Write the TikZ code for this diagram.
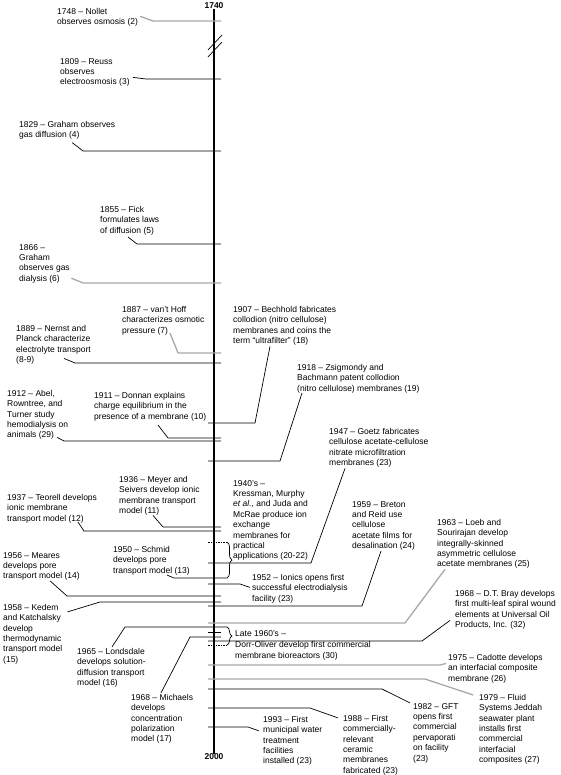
\documentclass[tikz,border=0pt]{standalone}
\usepackage{fontspec}
\setmainfont{Liberation Sans}
\usepackage{tikz}
\usetikzlibrary{decorations.pathreplacing}

\definecolor{linegray}{RGB}{168,168,168}
\newcommand{\evfont}{\fontsize{8.5}{10.4}\selectfont}

\begin{document}
\begin{tikzpicture}[x=1pt, y=-1pt,
  event/.style={anchor=north west, inner sep=0pt, align=left, font=\evfont},
  year/.style={inner sep=0pt, font=\evfont\bfseries},
  link/.style={line width=0.7pt},
  faint/.style={line width=1.3pt, draw=linegray},
  brace/.style={decorate, decoration={brace, amplitude=5pt}, line width=0.7pt},
  open/.style={line width=0.7pt, dash pattern=on 1.5pt off 1pt}]

\useasboundingbox (0,0) rectangle (560,775);

% Time axis
\node[year] (y1740) at (214,6) {1740};
\node[year] (y2000) at (214,757) {2000};
\draw[line width=1.1pt] (y1740.south) -- (y2000.north);

% Break in the axis
\draw[link] (208,57) -- (222,42);
\draw[link] (208,50) -- (222,35);

% Tick ends on the axis
\foreach \n/\y in {nollet/21, reuss/79, graham/151, fick/244, dialysis/283,
    vanthoff/353, nernst/363, donnan/438, abel/441, meyer/527, teorell/531,
    meares/596, kedem/602, michaels/637}
  \coordinate (\n-tick) at (221,\y);
\foreach \n/\y in {bechhold/423, zsigmondy/461, goetz/563, ionics/584,
    breton/606, loeb/623, bray/641, cadotte/665, fluid/679, gft/689,
    ceramic/708, municipal/727}
  \coordinate (\n-tick) at (208,\y);

% Events left of the axis
\node[event] (nollet) at (57,7.9) {1748 -- Nollet\\observes osmosis (2)};
\node[event] (reuss) at (60,57.9) {1809 -- Reuss\\observes\\electroosmosis (3)};
\node[event] (graham) at (19,120.9) {1829 -- Graham observes\\gas diffusion (4)};
\node[event] (fick) at (100,205.9) {1855 -- Fick\\formulates laws\\of diffusion (5)};
\node[event] (dialysis) at (19,243.9) {1866 --\\Graham\\observes gas\\dialysis (6)};
\node[event] (vanthoff) at (122,305.9) {1887 -- van't Hoff\\characterizes osmotic\\pressure (7)};
\node[event] (nernst) at (16,324.9) {1889 -- Nernst and\\Planck characterize\\electrolyte transport\\(8-9)};
\node[event] (abel) at (7,389.9) {1912 -- Abel,\\Rowntree, and\\Turner study\\hemodialysis on\\animals (29)};
\node[event] (donnan) at (94,391.9) {1911 -- Donnan explains\\charge equilibrium in the\\presence of a membrane (10)};
\node[event] (meyer) at (119,475.9) {1936 -- Meyer and\\Seivers develop ionic\\membrane transport\\model (11)};
\node[event] (teorell) at (7,493.9) {1937 -- Teorell develops\\ionic membrane\\transport model (12)};
\node[event] (schmid) at (113,545.9) {1950 -- Schmid\\develops pore\\transport model (13)};
\node[event] (meares) at (3,551.9) {1956 -- Meares\\develops pore\\transport model (14)};
\node[event] (kedem) at (3,603.9) {1958 -- Kedem\\and Katchalsky\\develop\\thermodynamic\\transport model\\(15)};
\node[event] (londsdale) at (77,647.9) {1965 -- Londsdale\\develops solution-\\diffusion transport\\model (16)};
\node[event] (michaels) at (131,693.9) {1968 -- Michaels\\develops\\concentration\\polarization\\model (17)};

% Events right of the axis
\node[event] (bechhold) at (233,305.9) {1907 -- Bechhold fabricates\\collodion (nitro cellulose)\\membranes and coins the\\term ``ultrafilter'' (18)};
\node[event] (zsigmondy) at (297,363.9) {1918 -- Zsigmondy and\\Bachmann patent collodion\\(nitro cellulose) membranes (19)};
\node[event] (goetz) at (329,427.9) {1947 -- Goetz fabricates\\cellulose acetate-cellulose\\nitrate microfiltration\\membranes (23)};
\node[event] (forties) at (233,479.9) {1940's --\\Kressman, Murphy\\\textit{et al.}, and Juda and\\McRae produce ion\\exchange\\membranes for\\practical\\applications (20-22)};
\node[event] (ionics) at (252,573.9) {1952 -- Ionics opens first\\successful electrodialysis\\facility (23)};
\node[event] (breton) at (352,500.9) {1959 -- Breton\\and Reid use\\cellulose\\acetate films for\\desalination (24)};
\node[event] (loeb) at (437,518.9) {1963 -- Loeb and\\Sourirajan develop\\integrally-skinned\\asymmetric cellulose\\acetate membranes (25)};
\node[event] (bray) at (455,589.9) {1968 -- D.T. Bray develops\\first multi-leaf spiral wound\\elements at Universal Oil\\Products, Inc. (32)};
\node[event] (late) at (235,629.9) {Late 1960's --\\[1.5pt]Dorr-Oliver develop first commercial\\membrane bioreactors (30)};
\node[event] (cadotte) at (448,653.9) {1975 -- Cadotte develops\\an interfacial composite\\membrane (26)};
\node[event] (fluid) at (479,693.9) {1979 -- Fluid\\Systems Jeddah\\seawater plant\\installs first\\commercial\\interfacial\\composites (27)};
\node[event] (gft) at (413,702.9) {1982 -- GFT\\opens first\\commercial\\pervaporati\\on facility\\(23)};
\node[event] (ceramic) at (343,714.9) {1988 -- First\\commercially-\\relevant\\ceramic\\membranes\\fabricated (23)};
\node[event] (municipal) at (263,715.9) {1993 -- First\\municipal water\\treatment\\facilities\\installed (23)};

% Connectors, left side
\draw[faint] ([shift={(2,-1)}]nollet.east) -- (153,21) -- (nollet-tick);
\draw[link] ([shift={(3,5)}]reuss.east) -- (146,79) -- (reuss-tick);
\draw[link] ([shift={(5,3)}]graham.south) -- (83,151) -- (graham-tick);
\draw[link] ([shift={(28,2)}]fick.south west) -- (137,244) -- (fick-tick);
\draw[faint] ([shift={(1.5,-5)}]dialysis.south east) -- (83,283) -- (dialysis-tick);
\draw[faint] ([shift={(48,-2)}]vanthoff.south west) -- (178,353) -- (vanthoff-tick);
\draw[link] ([shift={(48,-6)}]nernst.south west) -- (75,363) -- (nernst-tick);
\draw[link] ([shift={(50,-2.5)}]abel.south west) -- (64,441) -- (abel-tick);
\draw[link] ([shift={(64,4)}]donnan.south west) -- (168,438) -- (donnan-tick);
\draw[link] ([shift={(34,0)}]meyer.south west) -- (163,527) -- (meyer-tick);
\draw[link] ([shift={(71,-1)}]teorell.south west) -- (84,531) -- (teorell-tick);
\draw[link] ([shift={(47,0)}]meares.south west) -- (67,596) -- (meares-tick);
\draw[link] ([shift={(5,8)}]kedem.north east) -- (100,602) -- (kedem-tick);
\draw[link] ([shift={(30,-1)}]michaels.north west) -- (190,637) -- (michaels-tick);

% Braces for the 1940's and late 1960's
\coordinate (forties-top) at (227,542);
\coordinate (forties-bot) at (227,578);
\coordinate (forties-open) at (208,542);
\draw[brace] (forties-top) -- (forties-bot);
\draw[open] (forties-open) -- (forties-top);
\draw[link] ([shift={(54,0)}]schmid.south west) -- (174,578) -- (forties-bot);

\coordinate (late-top) at (227,627);
\coordinate (late-bot) at (227,645);
\coordinate (late-open) at (208,645);
\draw[brace] (late-top) -- (late-bot);
\draw[open] (late-open) -- (late-bot);
\draw[link] ([shift={(35,-1)}]londsdale.north west) -- (125,627) -- (late-top);
\draw[link] (208,632) -- (221,632);

% Connectors, right side
\draw[link] ([shift={(37,1)}]bechhold.south west) -- (255,423) -- (bechhold-tick);
\draw[link] ([shift={(5,0)}]zsigmondy.south west) -- (280,461) -- (zsigmondy-tick);
\draw[link] ([shift={(16,1)}]goetz.south west) -- (311,563) -- (goetz-tick);
\draw[link] ([shift={(-2,-1)}]ionics.west) -- (240,584) -- (ionics-tick);
\draw[link] ([shift={(29,0.5)}]breton.south west) -- (362,606) -- (breton-tick);
\draw[faint] ([shift={(8,0.5)}]loeb.south west) -- (405,623) -- (loeb-tick);
\draw[link] ([shift={(-5,-9)}]bray.south west) -- (422,641) -- (bray-tick);
\draw[faint] ([shift={(-2,-5)}]cadotte.west) -- (440,665) -- (cadotte-tick);
\draw[faint] ([shift={(-6,1)}]fluid.north west) -- (425,679) -- (fluid-tick);
\draw[link] ([shift={(-3,0)}]gft.north west) -- (382,689) -- (gft-tick);
\draw[link] ([shift={(-5,3)}]ceramic.north west) -- (310,708) -- (ceramic-tick);
\draw[link] ([shift={(-4,15)}]municipal.north west) -- (248,727) -- (municipal-tick);

\end{tikzpicture}
\end{document}
